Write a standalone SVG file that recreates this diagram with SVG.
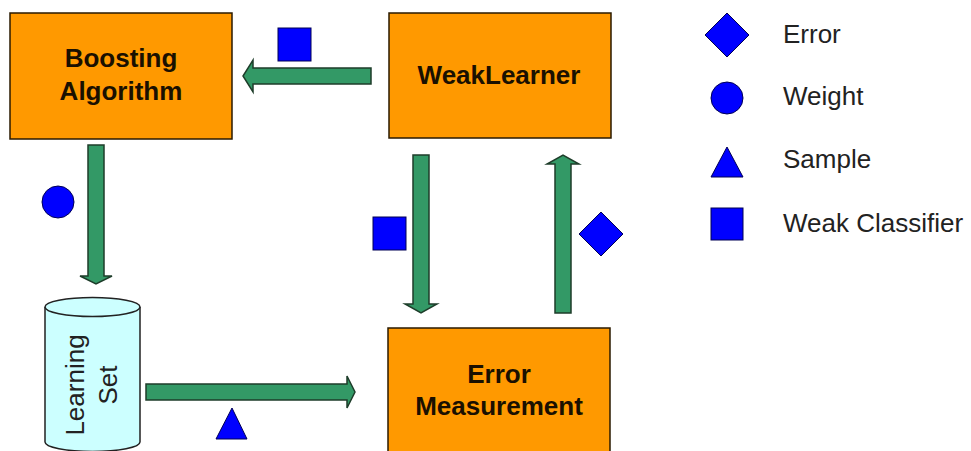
<svg xmlns="http://www.w3.org/2000/svg" width="971" height="451" viewBox="0 0 971 451">
<style>
.box{fill:#FF9900;stroke:#2a1a00;stroke-width:1.5}
.btxt{font-family:"Liberation Sans",Arial,sans-serif;font-weight:bold;font-size:26px;fill:#1a1000;text-anchor:middle}
.txt{font-family:"Liberation Sans",Arial,sans-serif;font-size:26px;fill:#222}
.arrow{fill:#339966;stroke:#1e3d2a;stroke-width:1.5;stroke-linejoin:miter}
.sym{fill:#0000FF;stroke:#000055;stroke-width:1}
.cyl{fill:#CCFFFF;stroke:#222;stroke-width:1.5}
</style>
<rect width="971" height="451" fill="#fff"/>
<g id="boosting">
<rect class="box" x="10" y="13" width="222" height="126"/>
<text class="btxt" x="121" y="67">Boosting</text>
<text class="btxt" x="121" y="100">Algorithm</text>
</g>
<g id="weaklearner">
<rect class="box" x="389" y="13" width="222" height="125"/>
<text class="btxt" x="499" y="84">WeakLearner</text>
</g>
<g id="errormeasurement">
<rect class="box" x="388" y="328" width="222" height="135"/>
<text class="btxt" x="499" y="383">Error</text>
<text class="btxt" x="499" y="415">Measurement</text>
</g>
<g id="learningset">
<path class="cyl" d="M45,307 L45,442 A47.5,9.5 0 0 0 140,442 L140,307"/>
<ellipse class="cyl" cx="92.5" cy="307" rx="47.5" ry="9.5"/>
<text class="txt" text-anchor="middle" transform="translate(84,385) rotate(-90)">Learning</text>
<text class="txt" text-anchor="middle" transform="translate(117,385) rotate(-90)">Set</text>
</g>
<g id="connectors">
<path class="arrow" d="M371,68 L253,68 L253,60 L243,76 L253,92 L253,84 L371,84 Z"/>
<path class="arrow" d="M88,145 L104,145 L104,276 L112,276 L96,284 L80,276 L88,276 Z"/>
<path class="arrow" d="M146,384 L347,384 L347,376 L355,392 L347,408 L347,400 L146,400 Z"/>
<path class="arrow" d="M413,155 L429,155 L429,304 L437,304 L421,313 L405,304 L413,304 Z"/>
<path class="arrow" d="M555,313 L571,313 L571,164 L579,164 L563,155 L547,164 L555,164 Z"/>
</g>
<g id="flow-symbols">
<rect class="sym" x="278" y="28" width="33" height="33"/>
<circle class="sym" cx="58" cy="202" r="16"/>
<polygon class="sym" points="232,408 247,439 216,439"/>
<rect class="sym" x="373" y="217" width="33" height="33"/>
<polygon class="sym" points="601,212 623,234 601,256 579,234"/>
</g>
<g id="legend">
<polygon class="sym" points="727,13 749,35 727,57 705,35"/>
<text class="txt" x="783" y="43">Error</text>
<circle class="sym" cx="727" cy="98" r="16"/>
<text class="txt" x="783" y="105">Weight</text>
<polygon class="sym" points="727,147 743,177 711,177"/>
<text class="txt" x="783" y="168">Sample</text>
<rect class="sym" x="711" y="208" width="32" height="32"/>
<text class="txt" x="783" y="232">Weak Classifier</text>
</g>
</svg>
